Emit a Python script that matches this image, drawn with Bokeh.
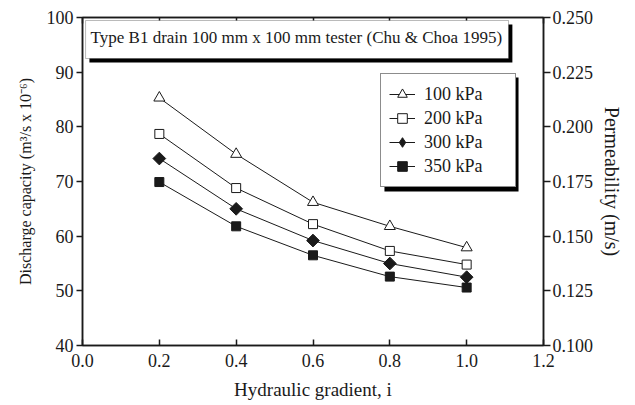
from bokeh.plotting import figure
from bokeh.models import (Range1d, LinearAxis, FixedTicker, NumeralTickFormatter,
                          BoxAnnotation, Label, Legend, LegendItem)
from bokeh.embed import file_html
from bokeh.resources import INLINE

# ---- data ----
gradient = [0.2, 0.4, 0.6, 0.8, 1.0]
q_100 = [85.3, 75.0, 66.2, 61.8, 57.9]
q_200 = [78.7, 68.8, 62.2, 57.3, 54.8]
q_300 = [74.2, 65.0, 59.2, 55.0, 52.5]
q_350 = [69.9, 61.8, 56.5, 52.6, 50.6]
series_labels = ["100 kPa", "200 kPa", "300 kPa", "350 kPa"]
x_ticks = [0.0, 0.2, 0.4, 0.6, 0.8, 1.0, 1.2]
y_ticks = [40, 50, 60, 70, 80, 90, 100]
perm_ticks = [0.100, 0.125, 0.150, 0.175, 0.200, 0.225, 0.250]
note = "Type B1 drain 100 mm x 100 mm tester (Chu & Choa 1995)"

FONT = "Liberation Serif"
INK = "#1a1a1a"

p = figure(width=635, height=405, output_backend="svg", toolbar_location=None,
           x_range=Range1d(0.0, 1.2), y_range=Range1d(40, 100),
           min_border_left=82, min_border_right=92, min_border_top=17, min_border_bottom=60)
p.grid.visible = False
p.outline_line_color = INK
p.outline_line_width = 1.5
p.background_fill_color = "white"
p.border_fill_color = "white"

p.extra_y_ranges = {"perm": Range1d(0.100, 0.250)}


def style_axis(ax, tin, tout):
    ax.axis_line_color = INK
    ax.axis_line_width = 1.5
    ax.major_tick_line_color = INK
    ax.major_tick_line_width = 1.5
    ax.major_tick_in = tin
    ax.major_tick_out = tout
    ax.minor_tick_line_color = None
    ax.major_label_text_font = FONT
    ax.major_label_text_font_size = "18px"
    ax.major_label_text_color = INK
    ax.axis_label_text_font = FONT
    ax.axis_label_text_font_size = "18px"
    ax.axis_label_text_font_style = "normal"
    ax.axis_label_text_color = INK


xa = p.xaxis[0]
xa.ticker = FixedTicker(ticks=x_ticks)
xa.formatter = NumeralTickFormatter(format="0.0")
xa.axis_label = "Hydraulic gradient, i"
style_axis(xa, 6, 0)
xa.axis_label_text_font_size = "19px"
xa.major_label_standoff = 8
xa.axis_label_standoff = 9

ya = p.yaxis[0]
ya.ticker = FixedTicker(ticks=y_ticks)
ya.axis_label = "Discharge capacity (m\u00b3/s x 10\u207b\u2076)"
style_axis(ya, 0, 6)
ya.axis_label_text_font_size = "16px"
ya.major_label_standoff = 3
ya.axis_label_standoff = 10

ra = LinearAxis(y_range_name="perm", ticker=FixedTicker(ticks=perm_ticks),
                formatter=NumeralTickFormatter(format="0.000"),
                axis_label="Permeability (m/s)")
style_axis(ra, 0, 7)
ra.axis_label_text_font_size = "20px"
ra.major_label_standoff = 2
ra.axis_label_standoff = 5
p.add_layout(ra, "right")

ta = LinearAxis(ticker=FixedTicker(ticks=x_ticks))
style_axis(ta, 6, 0)
ta.major_label_text_font_size = "1px"
ta.major_label_text_color = None
ta.major_label_standoff = 0
p.add_layout(ta, "above")

# ---- note box ----
p.add_layout(BoxAnnotation(left=0.018, right=1.119, top=98.72, bottom=91.77,
                           fill_color="black", fill_alpha=1.0, line_color=None))
p.add_layout(BoxAnnotation(left=0.008, right=1.109, top=99.45, bottom=92.5,
                           fill_color="white", fill_alpha=1.0, line_color=INK, line_width=1))
p.add_layout(Label(x=0.021, y=96.3, text=note, text_font=FONT, text_font_size="17px",
                   text_color=INK, text_baseline="middle"))

# ---- series ----
series = [q_100, q_200, q_300, q_350]
markers = ["triangle", "square", "square", "square"]
legend_markers = ["triangle", "square", "diamond", "square"]
angles = [0.0, 0.0, 0.785398, 0.0]
fills = ["white", "white", INK, INK]
sizes = [11, 9, 9, 9]
items = []
for vals, m, lm, ang, fc, sz, lab in zip(series, markers, legend_markers, angles, fills,
                                          sizes, series_labels):
    lr = p.line(gradient, vals, line_color=INK, line_width=1)
    if lm == m:
        sr = p.scatter(gradient, vals, marker=m, size=sz, fill_color=fc,
                       line_color=INK, line_width=1)
        items.append(LegendItem(label=lab, renderers=[lr, sr]))
    else:
        # legend-facing diamond, fully covered by the rotated square drawn over it
        kr = p.scatter(gradient, vals, marker=lm, size=sz, fill_color=fc,
                       line_color=INK, line_width=1)
        p.scatter(gradient, vals, marker=m, angle=ang, size=sz, fill_color=fc,
                  line_color=INK, line_width=1)
        items.append(LegendItem(label=lab, renderers=[lr, kr]))

# legend shadow
p.add_layout(BoxAnnotation(left=0.786, right=1.135, top=89.03, bottom=68.17,
                           fill_color="black", fill_alpha=1.0, line_color=None))
legend = Legend(items=items, location=(298, 158), orientation="vertical",
                label_text_font=FONT, label_text_font_size="18px", label_text_color=INK,
                glyph_width=26, glyph_height=24, label_height=24, label_width=83,
                label_standoff=9, spacing=0, padding=8, margin=0,
                border_line_color=INK, border_line_width=1,
                background_fill_color="white", background_fill_alpha=1.0)
p.add_layout(legend, "center")

open("out.html", "w").write(file_html(p, INLINE))
